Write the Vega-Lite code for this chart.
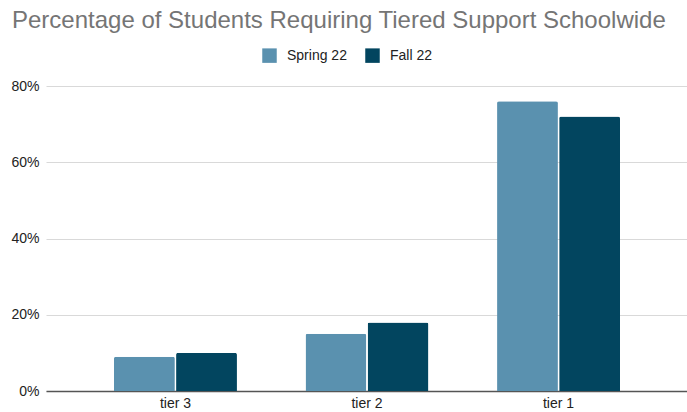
{
  "$schema": "https://vega.github.io/schema/vega-lite/v6.json",
  "autosize": {"type": "none"},
  "width": 642,
  "height": 305,
  "padding": {"left": 46, "top": 86, "right": 0, "bottom": 21},
  "background": "white",
  "title": {
    "text": "Percentage of Students Requiring Tiered Support Schoolwide",
    "anchor": "start",
    "frame": "group",
    "dx": -34,
    "offset": -4,
    "baseline": "alphabetic",
    "limit": 700,
    "font": "Liberation Sans",
    "fontSize": 24,
    "fontWeight": "normal",
    "color": "#757575"
  },
  "data": {
    "values": [
      {"tier": "tier 3", "term": "Spring 22", "pct": 0.09},
      {"tier": "tier 3", "term": "Fall 22", "pct": 0.10},
      {"tier": "tier 2", "term": "Spring 22", "pct": 0.15},
      {"tier": "tier 2", "term": "Fall 22", "pct": 0.18},
      {"tier": "tier 1", "term": "Spring 22", "pct": 0.76},
      {"tier": "tier 1", "term": "Fall 22", "pct": 0.72}
    ]
  },
  "mark": {"type": "bar", "cornerRadiusTopLeft": 2, "cornerRadiusTopRight": 2},
  "encoding": {
    "x": {
      "field": "tier",
      "type": "nominal",
      "sort": ["tier 3", "tier 2", "tier 1"],
      "scale": {"paddingInner": 0.358, "paddingOuter": 0.355},
      "axis": {
        "title": null,
        "labelAngle": 0,
        "labelFont": "Liberation Sans",
        "labelFontSize": 14,
        "labelColor": "#222222",
        "ticks": false,
        "domain": true,
        "domainColor": "#555555",
        "domainWidth": 1.5,
        "labelPadding": 5
      }
    },
    "xOffset": {
      "field": "term",
      "type": "nominal",
      "sort": ["Spring 22", "Fall 22"],
      "scale": {"paddingInner": 0.02}
    },
    "y": {
      "field": "pct",
      "type": "quantitative",
      "scale": {"domain": [0, 0.8], "nice": false},
      "axis": {
        "title": null,
        "format": ".0%",
        "values": [0, 0.2, 0.4, 0.6, 0.8],
        "labelFont": "Liberation Sans",
        "labelFontSize": 14,
        "labelColor": "#222222",
        "ticks": false,
        "domain": false,
        "labelPadding": 7,
        "gridColor": "#d9d9d9",
        "gridWidth": 1
      }
    },
    "color": {
      "field": "term",
      "type": "nominal",
      "sort": ["Spring 22", "Fall 22"],
      "scale": {"domain": ["Spring 22", "Fall 22"], "range": ["#5a91af", "#02455f"]},
      "legend": {
        "title": null,
        "orient": "none",
        "direction": "horizontal",
        "legendX": 216,
        "legendY": -38,
        "symbolType": "square",
        "symbolSize": 210,
        "symbolStrokeWidth": 0,
        "labelFont": "Liberation Sans",
        "labelFontSize": 14,
        "labelColor": "#222222",
        "columnPadding": 18,
        "labelOffset": 10
      }
    }
  },
  "config": {"view": {"stroke": null}}
}
